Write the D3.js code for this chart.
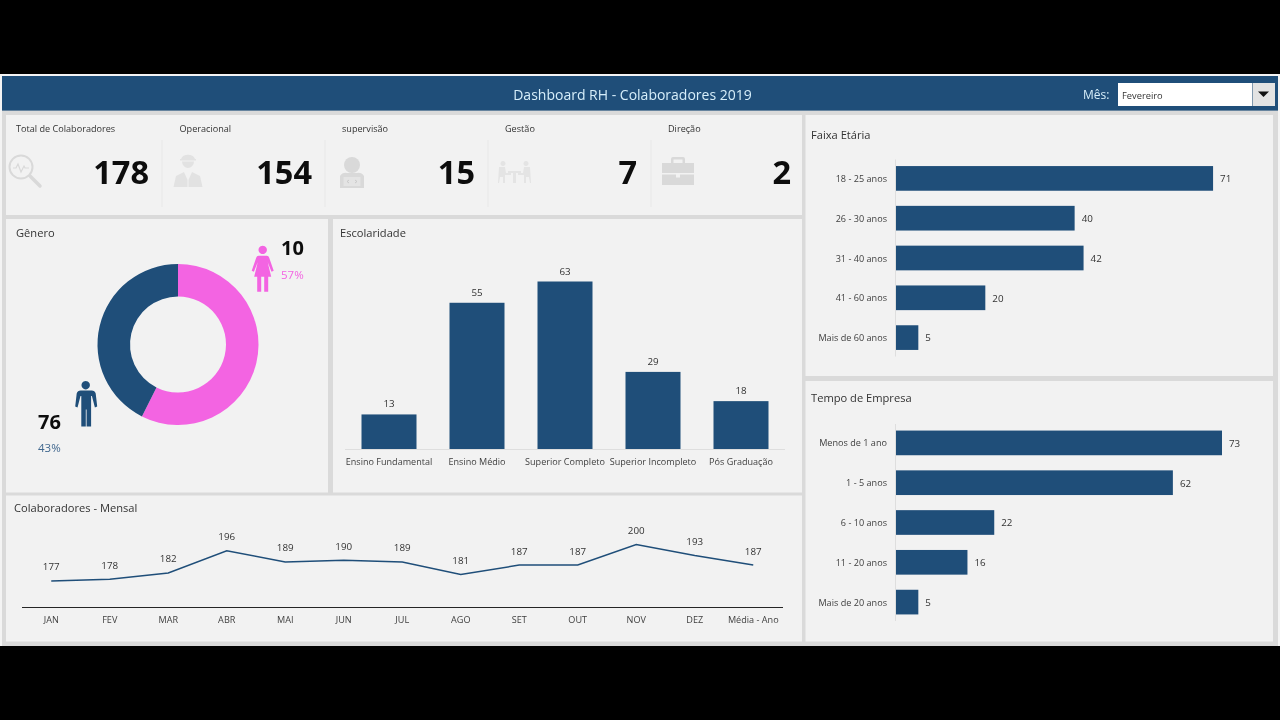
<!DOCTYPE html>
<html lang="pt">
<head>
<meta charset="utf-8">
<title>Dashboard RH - Colaboradores 2019</title>
<script src="https://cdnjs.cloudflare.com/ajax/libs/d3/7.8.5/d3.min.js"></script>
<style>
html,body{margin:0;padding:0;background:#000;overflow:hidden}
svg{display:block;filter:blur(0.3px)}
text{font-family:"Open Sans","Noto Sans",sans-serif;fill:#333}
.axis path,.axis line{display:none}
.axis text{font-size:9.8px;fill:#404040}
</style>
</head>
<body>
<svg id="c" width="1280" height="720"></svg>
<script>
const kpiLabels = ["Total de Colaboradores","Operacional","supervisão","Gestão","Direção"];
const kpiValues = [178,154,15,7,2];
const generoLabels = ["Feminino","Masculino"];
const generoShares = [57.4,42.6];
const generoCounts = [10,76];
const escolaridadeCats = ["Ensino Fundamental","Ensino Médio","Superior Completo","Superior Incompleto","Pós Graduação"];
const escolaridadeVals = [13,55,63,29,18];
const meses = ["JAN","FEV","MAR","ABR","MAI","JUN","JUL","AGO","SET","OUT","NOV","DEZ","Média - Ano"];
const mensalVals = [177,178,182,196,189,190,189,181,187,187,200,193,187];
const faixaCats = ["18 - 25 anos","26 - 30 anos","31 - 40 anos","41 - 60 anos","Mais de 60 anos"];
const faixaVals = [71,40,42,20,5];
const tempoCats = ["Menos de 1 ano","1 - 5 anos","6 - 10 anos","11 - 20 anos","Mais de 20 anos"];
const tempoVals = [73,62,22,16,5];

const BLUE="#1f4e79", PINK="#f364e2", PANEL="#f2f2f2", GAP="#dadada", ICON="#d9d9d9";
const svg=d3.select("#c");
const rect=(x,y,w,h,f)=>svg.append("rect").attr("x",x).attr("y",y).attr("width",w).attr("height",h).attr("fill",f);
const txt=(x,y,s,size,opt={})=>svg.append("text").attr("x",x).attr("y",y).attr("font-size",size)
  .attr("text-anchor",opt.a||"start").attr("font-weight",opt.w||400).style("fill",opt.f||"#333").text(s);
// Segoe-like proportions: Open Sans is set a little narrower than its natural width
function narrow(sel,k){
  sel.each(function(){
    const len=this.getComputedTextLength();
    d3.select(this).attr("textLength",len*k).attr("lengthAdjust","spacingAndGlyphs");
  });
}

// frame
rect(0,74,1280,572,"#f4f4f4");
rect(2,76,1276,570,GAP);
rect(2,76,1276,34.6,BLUE);
[[6,115,796,100],[6,219,322,273.5],[333,219,469,273.5],[6,495.5,796,146],[805.5,115,467.5,261],[805.5,381,467.5,260.5]]
 .forEach(p=>rect(p[0],p[1],p[2],p[3],PANEL));

// header
txt(632.5,100,"Dashboard RH - Colaboradores 2019",14,{a:"middle",f:"#d6eefa"});
txt(1083,99,"Mês:",12,{f:"#d6eefa"});
rect(1118,83,134,23,"#fff");
rect(1252.5,83,22.5,23,"#e3e3e3");
txt(1122,99,"Fevereiro",9.3,{f:"#333"});
svg.append("path").attr("d","M1258 91.5h11l-5.5 5.5z").attr("fill","#111");

// titles
[[16,236.8,"Gênero"],[340,236.8,"Escolaridade"],[14,511.5,"Colaboradores - Mensal"],[811,138.8,"Faixa Etária"],[811,401.5,"Tempo de Empresa"]]
 .forEach(t=>narrow(txt(t[0],t[1],t[2],11.6),0.96));

// KPI cards
const kpiX=d3.scaleOrdinal().domain(kpiLabels).range([16,179.5,342,505,668]);
const kpiRight=[149,312,475,637,791];
kpiLabels.forEach((l,i)=>{
  narrow(txt(kpiX(l),131.8,l,9.8,{f:"#333"}),0.93);
  txt(kpiRight[i],184,kpiValues[i],32.5,{a:"end",w:700,f:"#0d0d0d"});
});
[161.5,324.5,487.5,650.5].forEach(x=>rect(x,140,1,67,"#e8e8e8"));

// KPI icons (decorative)
const ic=svg.append("g").attr("fill",ICON);
ic.append("circle").attr("cx",21).attr("cy",167).attr("r",11.5).attr("fill","none").attr("stroke",ICON).attr("stroke-width",2);
ic.append("path").attr("d","M13 168h3l2-4 3 8 3-6 1 2h4").attr("fill","none").attr("stroke",ICON).attr("stroke-width",1.2);
ic.append("path").attr("d","M30 176l10 10").attr("stroke",ICON).attr("stroke-width",3.5).attr("stroke-linecap","round");
// worker
const worker=ic.append("g").attr("fill","#e2e2e2");
worker.append("path").attr("d","M181 159a7.500 6.500 0 0 1 14 0h1v1.500h-16v-1.500zM182 161.500h12a6 6.500 0 0 1-12 0zM173.500 187l2.500-11 8-4 3.500 8v7zM202.500 187l-2.500-11-8-4-3.500 8v7z");
// supervisor
ic.append("circle").attr("cx",352).attr("cy",165).attr("r",8);
ic.append("path").attr("d","M340 176a7 7 0 0 1 7-3h10a7 7 0 0 1 7 3v12h-24z");
ic.append("rect").attr("x",343.500).attr("y",177).attr("width",17).attr("height",9).attr("fill","#e4e4e4");
ic.append("path").attr("d","M349 180l-2 1.500 2 1.500M355 180l2 1.500-2 1.500").attr("fill","none").attr("stroke","#c4c4c4").attr("stroke-width",.8);
// management
ic.append("path").attr("fill","#e4e4e4").attr("d","M503 161a2.500 2.500 0 1 1 -0.010 0zM526 161a2.500 2.500 0 1 1 -0.010 0zM499 167h6l1 6h5v2h-6v8h-2v-6h-3l-1 6h-1zM530 167h-6l-1 6h-5v2h6v8h2v-6h3l1 6h1zM508 171h13v2h-5v10h-3v-10h-5z");
// briefcase
ic.append("path").attr("fill-rule","evenodd").attr("d","M671 163v-4a2 2 0 0 1 2-2h10a2 2 0 0 1 2 2v4h9v10h-32v-10zM673.500 163h9v-3.500h-9zM662 174.500h14v3h4v-3h14v10.500h-32z");

// donut
const pie=d3.pie().sort(null)(generoShares);
const arc=d3.arc().innerRadius(48).outerRadius(80.500);
svg.append("g").attr("transform","translate(178,344.500)").selectAll("path").data(pie).join("path")
  .attr("d",arc).attr("fill",(d,i)=>[PINK,BLUE][i]);
txt(281,255,generoCounts[0],20,{w:700,f:"#0d0d0d"});
txt(281,279,Math.round(generoShares[0])+"%",11.5,{f:PINK});
txt(38,429,generoCounts[1],20,{w:700,f:"#0d0d0d"});
txt(38,452,Math.round(generoShares[1])+"%",11.5,{f:"#41688f"});
const female="M0 0a4.200 4.200 0 1 1 -0.010 0zM-4 10h8c1.500 0 2 .8 2.500 2l4.500 13-2.200 1-3.800-9.500 3.500 14.500h-3v15h-4v-15h-3v15h-4v-15h-3l3.500-14.500-3.800 9.500-2.200-1 4.500-13c.5-1.200 1-2 2.500-2z";
const male="M0 0a4.200 4.200 0 1 1 -0.010 0zM-6 9.500h12c2 0 3.500 1.300 4 3l1.500 13-2.300 1-3-11.500-.8 0v30.500h-4.500v-17h-.8v17h-4.500v-30.500l-.8 0-3 11.500-2.300-1 1.500-13c.5-1.700 2-3 4-3z";
svg.append("path").attr("d",female).attr("transform","translate(262.700,245.700)").attr("fill",PINK);
svg.append("path").attr("d",male).attr("transform","translate(85.700,381)").attr("fill",BLUE);

// Escolaridade
const ex=d3.scaleBand().domain(escolaridadeCats).range([345,785]).paddingInner(0.375).paddingOuter(0.1875);
const ey=d3.scaleLinear().domain([0,63]).range([449,281.500]);
svg.append("g").selectAll("rect").data(escolaridadeVals).join("rect")
  .attr("x",(d,i)=>ex(escolaridadeCats[i])).attr("width",ex.bandwidth())
  .attr("y",d=>ey(d)).attr("height",d=>ey(0)-ey(d)).attr("fill",BLUE);
svg.append("g").selectAll("text").data(escolaridadeVals).join("text")
  .attr("x",(d,i)=>ex(escolaridadeCats[i])+ex.bandwidth()/2).attr("y",d=>ey(d)-7)
  .attr("text-anchor","middle").attr("font-size",9.8).text(d=>d);
rect(345,449,440,1,"#dedede");
narrow(svg.append("g").attr("class","axis").attr("transform","translate(0,449)")
  .call(d3.axisBottom(ex).tickSize(0).tickPadding(9)).selectAll("text"),0.925);

// Mensal
const mx=d3.scaleBand().domain(meses).range([22,782.500]);
const my=d3.scaleLinear().domain([160.500,200]).range([607,544.500]);
const mc=d=>mx(d)+mx.bandwidth()/2;
svg.append("path").attr("d",d3.line().x((d,i)=>mc(meses[i])).y(d=>my(d))(mensalVals))
  .attr("fill","none").attr("stroke",BLUE).attr("stroke-width",1.5);
svg.append("g").selectAll("text").data(mensalVals).join("text")
  .attr("x",(d,i)=>mc(meses[i])).attr("y",d=>my(d)-10.500)
  .attr("text-anchor","middle").attr("font-size",9.8).text(d=>d);
rect(22,607,761,1,"#262626");
narrow(svg.append("g").attr("class","axis").attr("transform","translate(0,607)")
  .call(d3.axisBottom(mx).tickSize(0).tickPadding(9)).selectAll("text"),0.93);

// horizontal bars
function hbars(cats,vals,top){
  const x=d3.scaleLinear().domain([0,73]).range([896,1222]);
  const y=d3.scaleBand().domain(cats).range([top,top+5*39.8]).paddingInner(0.38).paddingOuter(0.19);
  svg.append("g").selectAll("rect").data(vals).join("rect")
    .attr("x",x(0)).attr("y",(d,i)=>y(cats[i])).attr("height",y.bandwidth())
    .attr("width",d=>x(d)-x(0)).attr("fill",BLUE);
  svg.append("g").selectAll("text").data(vals).join("text")
    .attr("x",d=>x(d)+7).attr("y",(d,i)=>y(cats[i])+y.bandwidth()/2+3.800)
    .attr("font-size",9.8).text(d=>d);
  rect(895,top+1,1,5*39.8-2,"#dedede");
  const labels=svg.append("g").attr("class","axis").attr("transform","translate(896,0)")
    .call(d3.axisLeft(y).tickSize(0).tickPadding(9)).selectAll("text").attr("dy","0.36em");
  narrow(labels,0.93);
}
hbars(faixaCats,faixaVals,158.500);
hbars(tempoCats,tempoVals,423);
</script>
</body>
</html>
